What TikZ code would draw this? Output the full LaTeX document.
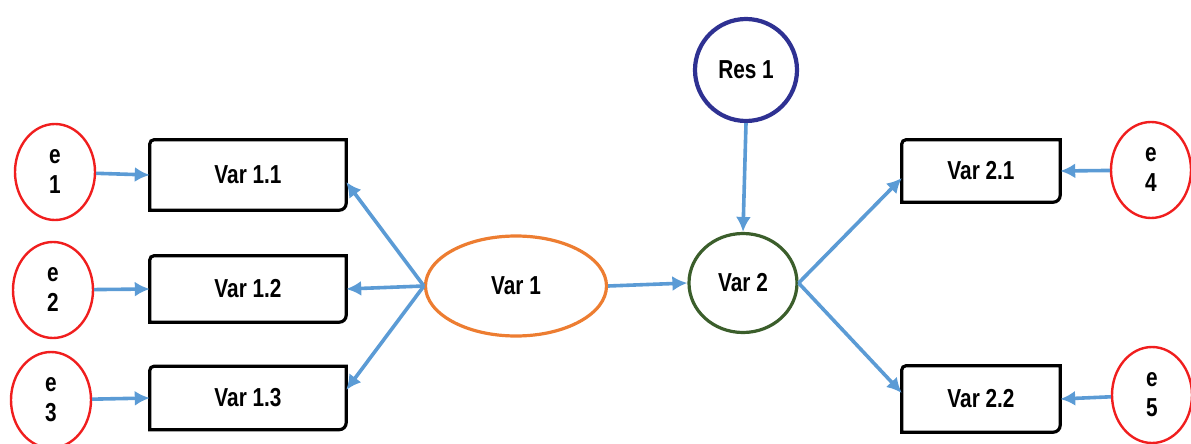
\documentclass[tikz,border=0pt]{standalone}
\usepackage{fontspec}
\setmainfont[FakeStretch=0.8]{Liberation Sans}
\usetikzlibrary{shapes.geometric,arrows.meta}
\definecolor{errred}{HTML}{F01E1E}
\definecolor{linkblue}{HTML}{5B9BD5}
\definecolor{latorange}{HTML}{ED7D31}
\definecolor{latgreen}{HTML}{3B5E2B}
\definecolor{resblue}{HTML}{2E3192}
\tikzset{
  lbl/.style={font=\fontsize{26}{30}\selectfont\bfseries, align=center, inner sep=0pt},
  errnode/.style={lbl, ellipse, draw=errred, line width=2.4pt, minimum width=80pt, minimum height=96pt},
  obsbox/.style={lbl, draw=none, minimum width=196pt},
  latnode/.style={lbl, ellipse, line width=3.2pt},
  link/.style={draw=linkblue, line width=3.6pt, -{Latex[length=15pt,width=15pt]}},
}
% rectangle with the top-left and bottom-right corners rounded
\newcommand{\cornerbox}[1]{%
  \draw[line width=3.2pt, line join=miter]
    ([xshift=4pt]#1.north west) -- (#1.north east)
    -- ([yshift=7pt]#1.south east) arc[start angle=0, end angle=-90, radius=7pt]
    -- (#1.south west) -- ([yshift=-4pt]#1.north west)
    arc[start angle=180, end angle=90, radius=4pt] -- cycle;}
\begin{document}
\begin{tikzpicture}[x=1pt, y=-1pt]
\useasboundingbox (0,0) rectangle (1191,444);

% error terms
\node[errnode] (e1) at (55,172) {e\\1};
\node[errnode] (e2) at (53,290) {e\\2};
\node[errnode] (e3) at (51,400) {e\\3};
\node[errnode] (e4) at (1151,170) {e\\4};
\node[errnode] (e5) at (1152,395) {e\\5};

% observed indicators
\node[obsbox, minimum height=70pt] (b11) at (248,175) {Var 1.1};
\node[obsbox, minimum height=66pt] (b12) at (248,289) {Var 1.2};
\node[obsbox, minimum height=63pt] (b13) at (248,398) {Var 1.3};
\node[obsbox, minimum width=158pt, minimum height=62pt] (b21) at (981,171) {Var 2.1};
\node[obsbox, minimum width=158pt, minimum height=66pt] (b22) at (981,399) {Var 2.2};
\foreach \b in {b11,b12,b13,b21,b22} {\cornerbox{\b}}

% latent variables
\node[latnode, draw=latorange, minimum width=181pt, minimum height=100pt] (v1) at (516,286) {Var 1};
\node[latnode, draw=latgreen, minimum width=108pt, minimum height=99pt] (v2) at (743,283) {Var 2};
\node[latnode, circle, draw=resblue, line width=4.2pt, minimum size=102pt] (r1) at (746,70) {Res 1};

% paths
\draw[link] (e1) -- (b11.west);
\draw[link] (e2) -- (b12.west);
\draw[link] (e3) -- (b13.west);
\draw[link] (v1.west) -- ([yshift=-7pt]b11.east);
\draw[link] (v1.west) -- (b12.east);
\draw[link] (v1.west) -- ([yshift=8pt]b13.east);
\draw[link] (v1.east) -- (v2.west);
\draw[link] (r1.south) -- (v2.north);
\draw[link] (v2.east) -- ([yshift=-7pt]b21.west);
\draw[link] (v2.east) -- ([yshift=6pt]b22.west);
\draw[link] (e4) -- (b21.east);
\draw[link] (e5) -- (b22.east);
\end{tikzpicture}
\end{document}
